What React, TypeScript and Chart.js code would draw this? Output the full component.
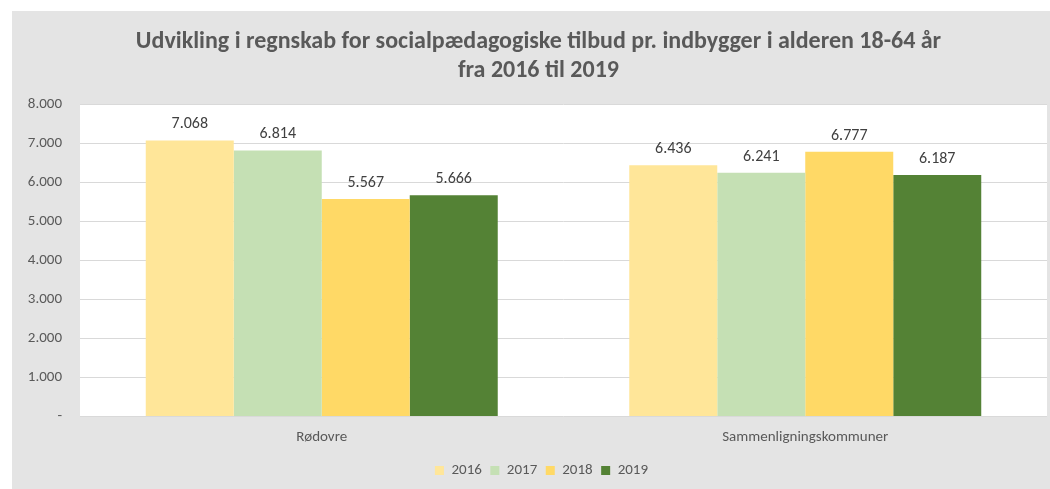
import React, { useEffect, useRef } from "react";
import { Chart, registerables } from "chart.js";

Chart.register(...registerables);

const categories = ["Rødovre", "Sammenligningskommuner"];
const years = ["2016", "2017", "2018", "2019"];
const values2016 = [7068, 6436];
const values2017 = [6814, 6241];
const values2018 = [5567, 6777];
const values2019 = [5666, 6187];
const yTicks = [0, 1000, 2000, 3000, 4000, 5000, 6000, 7000, 8000];
const colors = ["#FFE699", "#C5E0B4", "#FFD966", "#548235"];
const titleLines = [
  "Udvikling i regnskab for socialpædagogiske tilbud pr. indbygger i alderen 18-64 år",
  "fra 2016 til 2019",
];

const FONT = "Carlito, 'Liberation Sans Narrow', 'Liberation Sans', sans-serif";

function fmt(v: number): string {
  if (v === 0) return "-";
  const s = Math.round(v).toString();
  return s.replace(/\B(?=(\d{3})+(?!\d))/g, ".");
}

const plotBg = {
  id: "plotBg",
  beforeDraw(chart: any) {
    const { ctx, chartArea } = chart;
    ctx.save();
    ctx.fillStyle = "#E4E4E4";
    ctx.fillRect(0, 0, chart.width, chart.height);
    ctx.fillStyle = "#FFFFFF";
    ctx.fillRect(chartArea.left, chartArea.top, chartArea.right - chartArea.left, chartArea.bottom - chartArea.top);
    ctx.restore();
  },
};

const shiftBoxes = {
  id: "shiftBoxes",
  afterLayout(chart: any) {
    const t = chart.titleBlock;
    if (t) {
      t.left += 9;
      t.right += 9;
    }
    const l = chart.legend;
    if (l) {
      l.left += 12;
      l.right += 12;
    }
  },
};

const dataLabels = {
  id: "dataLabels",
  afterDatasetsDraw(chart: any) {
    const { ctx } = chart;
    ctx.save();
    ctx.font = `16px ${FONT}`;
    ctx.fillStyle = "#404040";
    ctx.textAlign = "center";
    ctx.textBaseline = "alphabetic";
    chart.data.datasets.forEach((ds: any, i: number) => {
      const meta = chart.getDatasetMeta(i);
      meta.data.forEach((bar: any, j: number) => {
        ctx.fillText(fmt(ds.data[j]), bar.x, bar.y - 12);
      });
    });
    ctx.restore();
  },
};

export default function App() {
  const ref = useRef<HTMLCanvasElement | null>(null);
  useEffect(() => {
    if (!ref.current) return;
    const series = [values2016, values2017, values2018, values2019];
    const chart = new Chart(ref.current, {
      type: "bar",
      data: {
        labels: categories,
        datasets: years.map((y, i) => ({
          label: y,
          data: series[i],
          backgroundColor: colors[i],
          borderWidth: 0,
          categoryPercentage: 0.728,
          barPercentage: 1,
        })),
      },
      options: {
        animation: false,
        responsive: false,
        maintainAspectRatio: false,
        layout: { padding: { left: 0, right: 3, top: 0, bottom: 1 } },
        plugins: {
          title: {
            display: true,
            text: titleLines,
            color: "#595959",
            font: { family: FONT, size: 24, weight: "bold", lineHeight: 1.21 },
            padding: { top: 16, bottom: 19 },
          },
          legend: {
            position: "bottom",
            labels: {
              boxWidth: 9,
              boxHeight: 9,
              color: "#595959",
              font: { family: FONT, size: 15 },
              padding: 8.5,
            },
          },
          tooltip: { enabled: false },
        },
        scales: {
          x: {
            grid: { display: false, drawTicks: false },
            border: { display: false },
            ticks: { color: "#595959", font: { family: FONT, size: 15 }, padding: 12 },
            afterFit(scale: any) {
              scale.height -= 4;
            },
          },
          y: {
            min: 0,
            max: 8000,
            afterFit(scale: any) {
              scale.width = 68;
            },
            afterBuildTicks(scale: any) {
              scale.ticks = yTicks.map((v) => ({ value: v }));
            },
            grid: { color: "#D9D9D9", lineWidth: 1, drawTicks: false },
            border: { display: false },
            ticks: {
              color: "#595959",
              font: { family: FONT, size: 15 },
              padding: 18,
              callback: (v: any) => fmt(Number(v)),
            },
          },
        },
      } as any,
      plugins: [plotBg, shiftBoxes, dataLabels],
    });
    return () => chart.destroy();
  }, []);
  return (
    <div style={{ position: "absolute", left: 12, top: 11, width: 1038, height: 478 }}>
      <canvas ref={ref} width={1038} height={478} style={{ display: "block" }} />
    </div>
  );
}
